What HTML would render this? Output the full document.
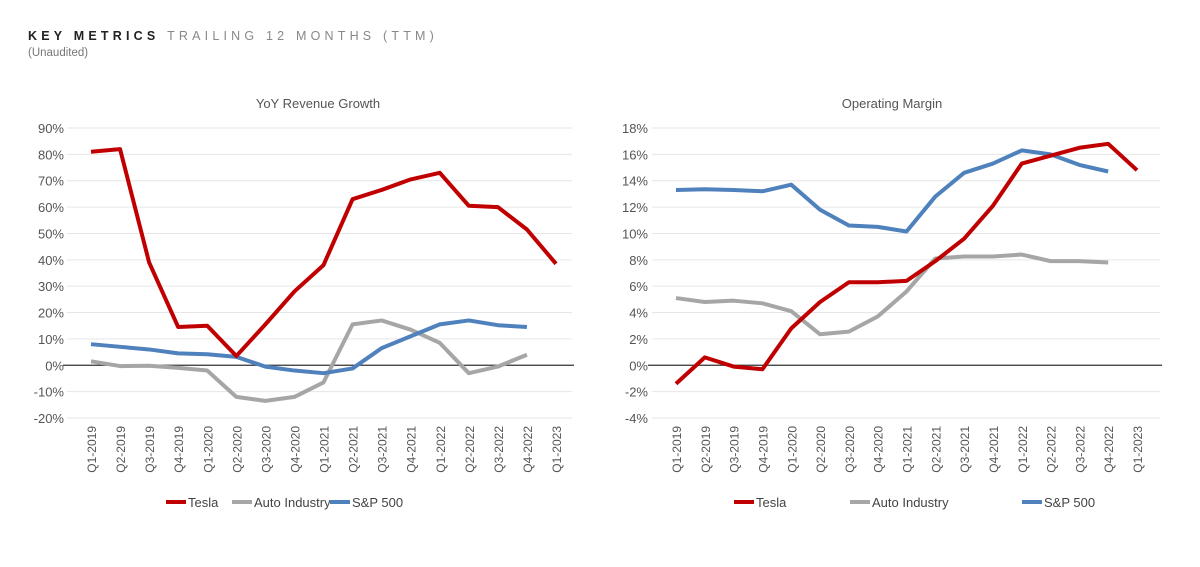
<!DOCTYPE html>
<html><head><meta charset="utf-8"><style>
body{margin:0;background:#fff;font-family:"Liberation Sans",sans-serif;}
svg text{font-family:"Liberation Sans",sans-serif;}
</style></head><body>
<svg id="s" width="1200" height="562" xmlns="http://www.w3.org/2000/svg">
<text x="28" y="40" font-size="12.5" font-weight="bold" letter-spacing="4.2" fill="#222">KEY METRICS <tspan fill="#888" font-weight="normal">TRAILING 12 MONTHS (TTM)</tspan></text>
<text x="28" y="56" font-size="11.5" fill="#777">(Unaudited)</text>
</svg>
<script>
const quarters=["Q1-2019","Q2-2019","Q3-2019","Q4-2019","Q1-2020","Q2-2020","Q3-2020","Q4-2020","Q1-2021","Q2-2021","Q3-2021","Q4-2021","Q1-2022","Q2-2022","Q3-2022","Q4-2022","Q1-2023"];
const revTesla=[81,82,39,14.5,15,3.5,15.5,28,38,63,66.5,70.5,73,60.5,60,51.5,38.5];
const revAuto=[1.5,-0.3,-0.2,-1,-2,-12,-13.5,-12,-6.5,15.5,17,13.5,8.5,-3,-0.5,4];
const revSP=[8,7,6,4.5,4.2,3.2,-0.5,-2,-3,-1.2,6.5,11,15.5,17,15.2,14.5];
const revTicks=[90,80,70,60,50,40,30,20,10,0,-10,-20];
const omTesla=[-1.4,0.6,-0.1,-0.3,2.8,4.8,6.3,6.3,6.4,7.9,9.6,12.1,15.3,15.9,16.5,16.8,14.8];
const omAuto=[5.1,4.8,4.9,4.7,4.1,2.35,2.55,3.7,5.6,8.1,8.25,8.25,8.4,7.9,7.9,7.8];
const omSP=[13.3,13.35,13.3,13.2,13.7,11.8,10.6,10.5,10.15,12.8,14.6,15.3,16.3,16.0,15.2,14.7];
const omTicks=[18,16,14,12,10,8,6,4,2,0,-2,-4];
const NS="http://www.w3.org/2000/svg",svg=document.getElementById('s');
function mk(t,a,p){const e=document.createElementNS(NS,t);for(const k in a)e.setAttribute(k,a[k]);(p||svg).appendChild(e);return e;}
function chart(o){
 const g=mk('g',{});
 
 
 const ymax=o.ticks[0],ymin=o.ticks[o.ticks.length-1];
 const y=v=>128+(ymax-v)/(ymax-ymin)*(418-128);
 const x=i=>o.x0+i*(o.x1-o.x0)/(quarters.length-1);
 const t=mk('text',{x:o.cx,y:108,'font-size':13,fill:'#555','text-anchor':'middle'},g);t.textContent=o.title;
 
 
 o.ticks.forEach(v=>{
  if(v!==0){const l=mk('line',{x1:o.gx0,x2:o.gx1,y1:y(v),y2:y(v),stroke:'#e6e6e6','stroke-width':1},g);
  
  }
  const tx=mk('text',{x:o.lx,y:y(v)+5,'font-size':13,fill:'#555','text-anchor':'end'},g);tx.textContent=v+'%';
  
  
 });
 const z=mk('line',{x1:o.gx0-4,x2:o.gx1+2,y1:y(0),y2:y(0),stroke:'#333','stroke-width':1.2},g);
 
 
 quarters.forEach((q,i)=>{const tx=mk('text',{transform:`translate(${x(i)+5},${426}) rotate(-90)`,'font-size':12,fill:'#555','text-anchor':'end'},g);tx.textContent=q;
  
  });
 const ser=[[o.auto,'#a6a6a6','auto-industry-line'],[o.sp,'#4f81bd','sp500-line'],[o.tesla,'#c00000','tesla-line']];
 ser.forEach(([d,c,n])=>{const p=mk('polyline',{points:d.map((v,i)=>x(i)+','+y(v)).join(' '),fill:'none',stroke:c,'stroke-width':4,'stroke-linejoin':'round'},g);
  
  });
 [['Tesla','#c00000',o.lg[0]],['Auto Industry','#a6a6a6',o.lg[1]],['S&P 500','#4f81bd',o.lg[2]]].forEach(([n,c,lx])=>{
  const lg=mk('g',{},g);
  
  
  mk('line',{x1:lx,x2:lx+20,y1:502,y2:502,stroke:c,'stroke-width':4},lg);
  const tx=mk('text',{x:lx+22,y:507,'font-size':13,fill:'#444'},lg);tx.textContent=n;
 });
}
chart({name:'revenue-growth-chart',title:'YoY Revenue Growth',cx:318,x0:91,x1:556,gx0:67,gx1:572,lx:64,ticks:revTicks,tesla:revTesla,auto:revAuto,sp:revSP,lg:[166,232,330]});
chart({name:'operating-margin-chart',title:'Operating Margin',cx:892,x0:676,x1:1137,gx0:652,gx1:1160,lx:648,ticks:omTicks,tesla:omTesla,auto:omAuto,sp:omSP,lg:[734,850,1022]});
</script>
</body></html>
